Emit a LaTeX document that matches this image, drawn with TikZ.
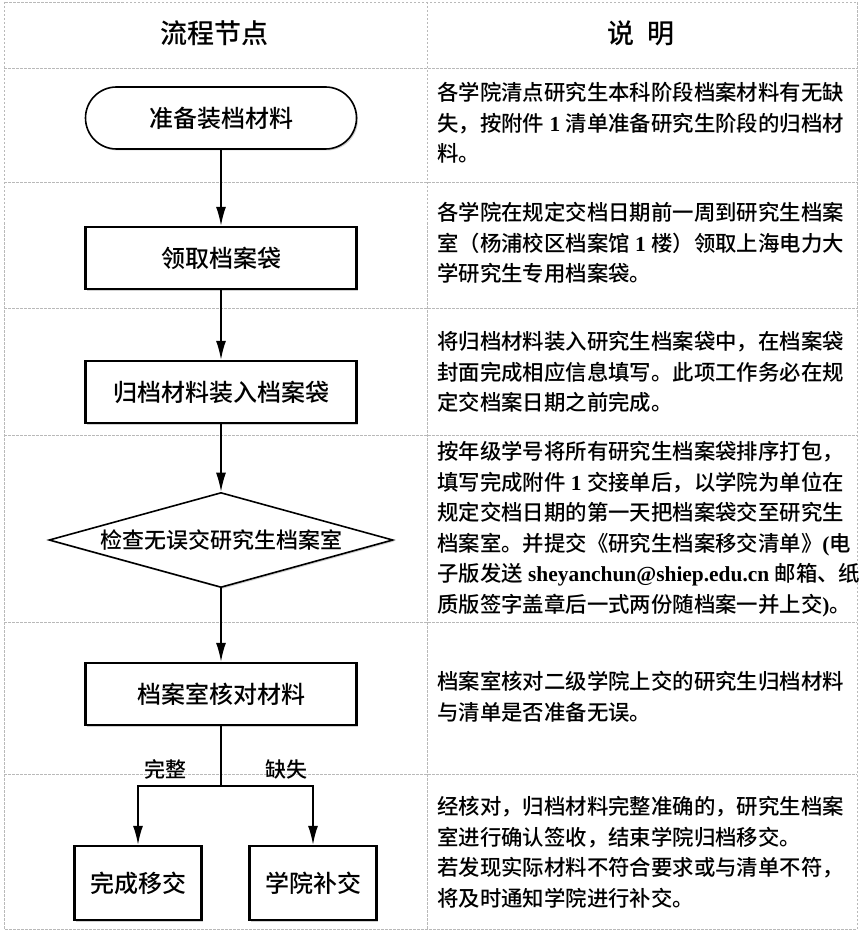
\documentclass[tikz,border=0pt]{standalone}
\usepackage{fontspec}
\setmainfont{Noto Sans CJK SC}[UprightFont=* Medium,BoldFont=* Bold]
\newfontfamily\lat{Liberation Serif}
\usetikzlibrary{arrows.meta,shapes.geometric,shadows}

\begin{document}
\begin{tikzpicture}[x=1pt,y=-1pt,
    grid/.style={gray!55,line width=0.7pt,dash pattern=on 2.5pt off 1.5pt},
    stepbox/.style={draw,line width=2.4pt,fill=white,minimum width=271pt,minimum height=62pt,
        font=\fontsize{24}{28}\selectfont,
        drop shadow={shadow xshift=1.5pt,shadow yshift=-1.5pt,fill=gray!60,opacity=0.6}},
    smallbox/.style={stepbox,minimum width=127pt,minimum height=74pt},
    startbox/.style={stepbox,rounded corners=31pt,line width=1.6pt},
    checkbox/.style={draw,diamond,aspect=3.6,inner sep=0pt,line width=1.6pt,fill=white,
        minimum width=344pt,minimum height=95pt,font=\fontsize{22}{26}\selectfont,
        drop shadow={shadow xshift=1.5pt,shadow yshift=-1.5pt,fill=gray!60,opacity=0.6}},
    arr/.style={-{Latex[length=19pt,width=10pt]},line width=1.6pt},
    note/.style={anchor=north west,inner sep=0pt,align=left,font=\fontsize{21.4}{30.6}\selectfont},
    head/.style={font=\fontsize{27}{30}\selectfont},
    branch/.style={font=\fontsize{21}{24}\selectfont}]
\useasboundingbox (0,0) rectangle (861,933);

\draw[grid] (4,2) rectangle (857,929);
\draw[grid] (427,2) -- (427,929);
\foreach \y in {68,182,308,435,622,774}
    \draw[grid] (4,\y) -- (857,\y);

\node[head] (h1) at (214,33) {流程节点};
\node[head] (h2) at (641,33) {说\enspace 明};

\node[startbox] (s1) at (221,118) {准备装档材料};
\node[stepbox] (s2) at (221,258) {领取档案袋};
\node[stepbox] (s3) at (221,392) {归档材料装入档案袋};
\node[checkbox] (s4) at (221,540) {检查无误交研究生档案室};
\node[stepbox] (s5) at (221,694) {档案室核对材料};
\node[smallbox] (s6) at (138,883) {完成移交};
\node[smallbox] (s7) at (313,883) {学院补交};

\draw[arr] (s1) -- (s2);
\draw[arr] (s2) -- (s3);
\draw[arr] (s3) -- (s4);
\draw[arr] (s4) -- (s5);
\draw[line width=1.6pt] (s5.south) -- ++(0,60) coordinate (br);
\draw[arr] (br) -| (s6.north);
\draw[arr] (br) -| (s7.north);
\node[branch] (ok) at (165,769) {完整};
\node[branch] (miss) at (286,769) {缺失};

\node[note] (n1) at (437,82) {各学院清点研究生本科阶段档案材料有无缺\\
    失，按附件{\lat\bfseries\ 1 }清单准备研究生阶段的归档材\\
    料。};
\node[note] (n2) at (437,202) {各学院在规定交档日期前一周到研究生档案\\
    室（杨浦校区档案馆{\lat\bfseries\ 1 }楼）领取上海电力大\\
    学研究生专用档案袋。};
\node[note] (n3) at (437,331) {将归档材料装入研究生档案袋中，在档案袋\\
    封面完成相应信息填写。此项工作务必在规\\
    定交档案日期之前完成。};
\node[note] (n4) at (437,441) {按年级学号将所有研究生档案袋排序打包，\\
    填写完成附件{\lat\bfseries\ 1 }交接单后，以学院为单位在\\
    规定交档日期的第一天把档案袋交至研究生\\
    档案室。并提交《研究生档案移交清单》{\lat\bfseries (}电\\
    子版发送{\lat\bfseries\ sheyanchun@shiep.edu.cn }邮箱、纸\\
    质版签字盖章后一式两份随档案一并上交{\lat\bfseries )}。};
\node[note] (n5) at (437,671) {档案室核对二级学院上交的研究生归档材料\\
    与清单是否准备无误。};
\node[note] (n6) at (437,796) {经核对，归档材料完整准确的，研究生档案\\
    室进行确认签收，结束学院归档移交。\\
    若发现实际材料不符合要求或与清单不符，\\
    将及时通知学院进行补交。};
\end{tikzpicture}
\end{document}
